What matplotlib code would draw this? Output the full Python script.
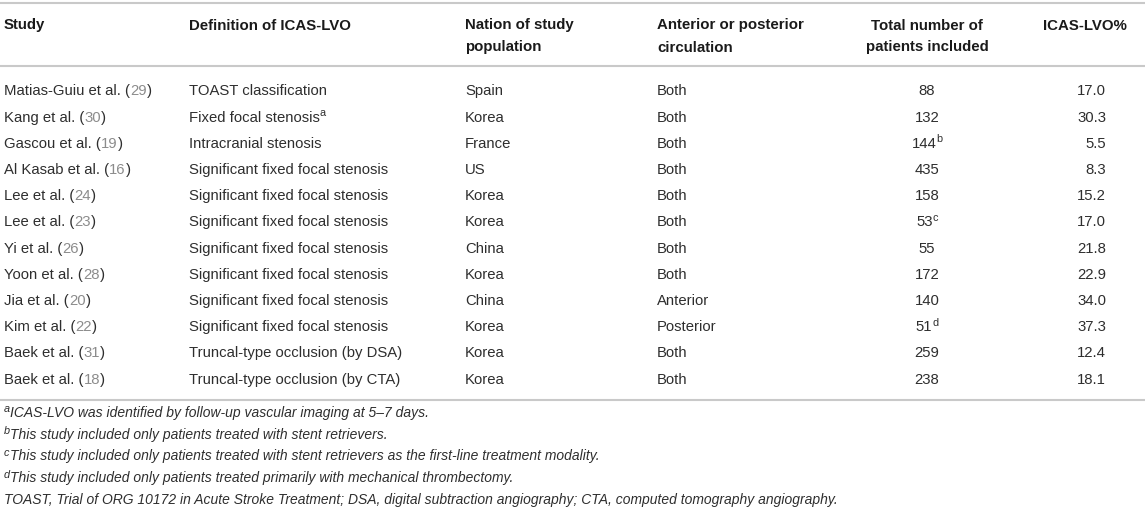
import matplotlib
matplotlib.use("Agg")
import matplotlib.pyplot as plt

# ---------------- data ----------------
headers_l1 = ["Study", "Definition of ICAS-LVO", "Nation of study", "Anterior or posterior", "Total number of", "ICAS-LVO%"]
headers_l2 = ["", "", "population", "circulation", "patients included", ""]

studies = ["Matias-Guiu et al.", "Kang et al.", "Gascou et al.", "Al Kasab et al.", "Lee et al.",
           "Lee et al.", "Yi et al.", "Yoon et al.", "Jia et al.", "Kim et al.", "Baek et al.", "Baek et al."]
refs = ["29", "30", "19", "16", "24", "23", "26", "28", "20", "22", "31", "18"]
definitions = ["TOAST classification", "Fixed focal stenosis", "Intracranial stenosis",
               "Significant fixed focal stenosis", "Significant fixed focal stenosis",
               "Significant fixed focal stenosis", "Significant fixed focal stenosis",
               "Significant fixed focal stenosis", "Significant fixed focal stenosis",
               "Significant fixed focal stenosis", "Truncal-type occlusion (by DSA)",
               "Truncal-type occlusion (by CTA)"]
definition_notes = ["", "a", "", "", "", "", "", "", "", "", "", ""]
nations = ["Spain", "Korea", "France", "US", "Korea", "Korea", "China", "Korea", "China", "Korea", "Korea", "Korea"]
circulation = ["Both", "Both", "Both", "Both", "Both", "Both", "Both", "Both", "Anterior", "Posterior", "Both", "Both"]
patients = ["88", "132", "144", "435", "158", "53", "55", "172", "140", "51", "259", "238"]
patient_notes = ["", "", "b", "", "", "c", "", "", "", "d", "", ""]
icas_pct = ["17.0", "30.3", "5.5", "8.3", "15.2", "17.0", "21.8", "22.9", "34.0", "37.3", "12.4", "18.1"]

footnote_marks = ["a", "b", "c", "d"]
footnote_texts = ["ICAS-LVO was identified by follow-up vascular imaging at 5–7 days.",
                  "This study included only patients treated with stent retrievers.",
                  "This study included only patients treated with stent retrievers as the first-line treatment modality.",
                  "This study included only patients treated primarily with mechanical thrombectomy."]
abbreviations = ("TOAST, Trial of ORG 10172 in Acute Stroke Treatment; DSA, digital subtraction angiography; "
                 "CTA, computed tomography angiography.")

# ---------------- style ----------------
W, H = 1145, 510
FONT = "Liberation Sans"
BODY = "#2e2e2e"
HEAD = "#1a1a1a"
REF = "#8c8c8c"
RULE = "#c9c9c9"
FS = 10.7
FS_HEAD = 10.8
FS_NOTE = 10.0
FS_SUP = 7.8

plt.rcParams["font.family"] = [FONT, "DejaVu Sans"]

fig = plt.figure(figsize=(W / 100, H / 100), dpi=100)
ax = fig.add_axes([0, 0, 1, 1])
ax.set_xlim(0, W)
ax.set_ylim(H, 0)
ax.axis("off")
renderer = fig.canvas.get_renderer()


def draw_pieces(x, y, pieces, ha="left"):
    """pieces: list of (text, color, size, dy, style). y is baseline."""
    texts = []
    widths = []
    for txt, color, size, dy, style in pieces:
        t = ax.text(0, y + dy, txt, color=color, fontsize=size, style=style,
                    va="baseline", ha="left", family=FONT)
        texts.append(t)
        widths.append(t.get_window_extent(renderer).width)
    total = sum(widths)
    if ha == "left":
        cx = x
    elif ha == "center":
        cx = x - total / 2
    else:
        cx = x - total
    for t, w in zip(texts, widths):
        t.set_x(cx)
        cx += w


col_x = [4, 189, 465, 657, 927, 1127]
col_ha = ["left", "left", "left", "left", "center", "right"]

# rules
for yy in (4, 67, 401):
    ax.plot([0, W], [yy, yy], color=RULE, lw=1.5, solid_capstyle="butt")

# header
for j in range(6):
    ax.text(col_x[j], 24 + 5.5, headers_l1[j], fontsize=FS_HEAD, fontweight="bold",
            color=HEAD, ha=col_ha[j], va="baseline", family=FONT)
    if headers_l2[j]:
        ax.text(col_x[j], 46 + 5.5, headers_l2[j], fontsize=FS_HEAD, fontweight="bold",
                color=HEAD, ha=col_ha[j], va="baseline", family=FONT)

# body
row0, dy_row = 90, 26.2
for i in range(len(studies)):
    yb = row0 + i * dy_row + 5.4
    draw_pieces(col_x[0], yb, [(studies[i] + " (", BODY, FS, 0, "normal"),
                                (refs[i], REF, FS, 0, "normal"),
                                (")", BODY, FS, 0, "normal")])
    p = [(definitions[i], BODY, FS, 0, "normal")]
    if definition_notes[i]:
        p.append((definition_notes[i], BODY, FS_SUP, -5.5, "normal"))
    draw_pieces(col_x[1], yb, p)
    ax.text(col_x[2], yb, nations[i], fontsize=FS, color=BODY, va="baseline", family=FONT)
    ax.text(col_x[3], yb, circulation[i], fontsize=FS, color=BODY, va="baseline", family=FONT)
    p = [(patients[i], BODY, FS, 0, "normal")]
    if patient_notes[i]:
        p.append((patient_notes[i], BODY, FS_SUP, -5.5, "normal"))
    draw_pieces(col_x[4], yb, p, ha="center")
    ax.text(1106, yb, icas_pct[i], fontsize=FS, color=BODY, ha="right", va="baseline", family=FONT)

# footnotes
fy0, fdy = 412, 21.8
for k in range(len(footnote_texts)):
    yb = fy0 + k * fdy + 4.8
    draw_pieces(4, yb, [(footnote_marks[k], BODY, FS_SUP, -4.5, "italic"),
                        (footnote_texts[k], BODY, FS_NOTE, 0, "italic")])
ax.text(4, fy0 + 4 * fdy + 4.8, abbreviations, fontsize=FS_NOTE, style="italic",
        color=BODY, va="baseline", family=FONT)

fig.savefig("out.png", dpi=100)
